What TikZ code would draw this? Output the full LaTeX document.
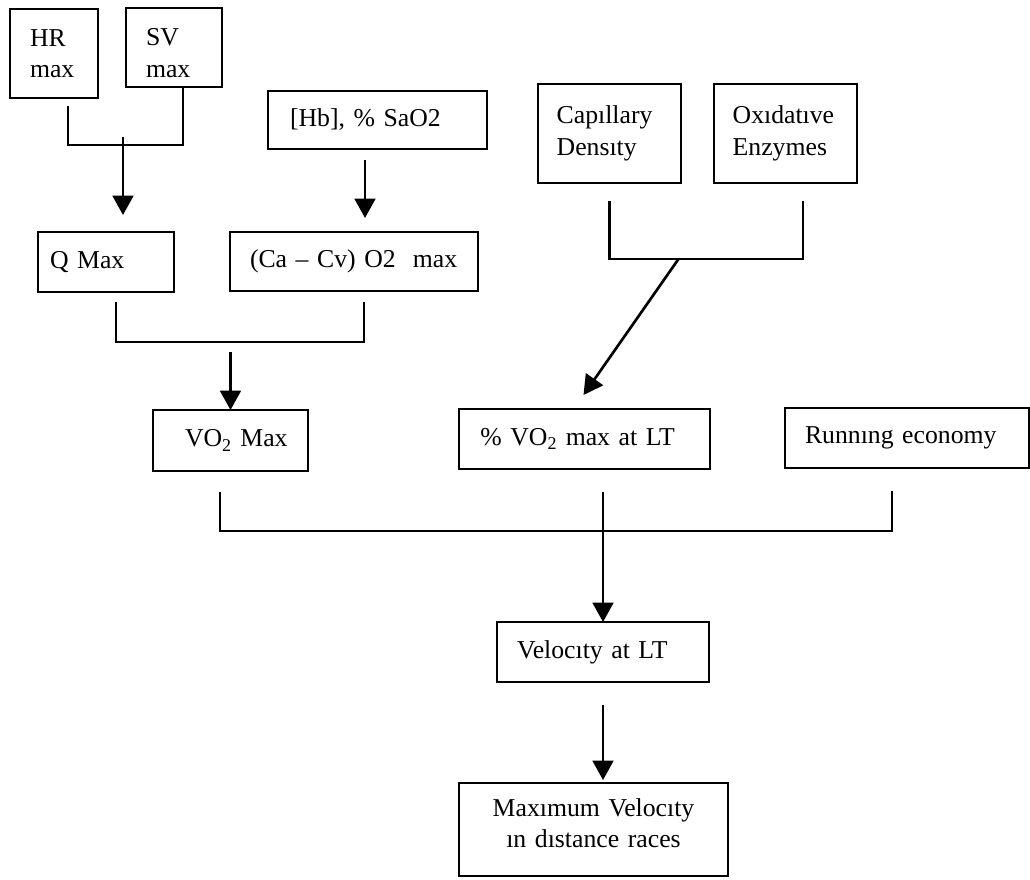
\documentclass[tikz,border=0pt]{standalone}
\usepackage{fontspec}
\setmainfont{Liberation Serif}
\usetikzlibrary{arrows.meta,calc}

\tikzset{
  blk/.style={draw, line width=2pt, anchor=north west, outer sep=0pt, align=left,
    inner ysep=0pt, inner xsep=15pt, font=\fontsize{19.3}{23.5}\selectfont},
  lnk/.style={line width=2pt},
  arr/.style={line width=2pt, -{Triangle[width=15.5pt,length=14.5pt]}},
}

\begin{document}
\begin{tikzpicture}[x=0.75pt,y=0.75pt,yscale=-1,xscale=1]
\useasboundingbox (0,0) rectangle (1030,879);
% boxes
\node[blk, text width=36pt, minimum height=66.75pt] (hr) at (10,9) {HR\\max};
\node[blk, text width=42pt, text height=21pt, minimum height=59.25pt] (sv) at (126,8) {SV\\max};
\node[blk, inner xsep=16.5pt, text width=131.25pt, minimum height=43.5pt] (hb) at (268,91) {[Hb],~\%~SaO2};
\node[blk, inner xsep=14pt, text width=79.25pt, minimum height=74.25pt] (cap) at (538,84) {Capıllary\\Densıty};
\node[blk, inner xsep=14pt, text width=79.25pt, minimum height=74.25pt] (oxi) at (714,84) {Oxıdatıve\\Enzymes};
\node[blk, inner xsep=9pt, text width=84pt, minimum height=45pt] (q) at (38,232) {Q~Max};
\node[blk, text width=156pt, minimum height=44.25pt] (cacv) at (230,232) {(Ca~–~Cv)~O2~~max};
\node[blk, inner xsep=24pt, text width=68.25pt, minimum height=45.75pt] (vo2) at (153,410) {VO\textsubscript{2}~Max};
\node[blk, inner xsep=16pt, text width=156.25pt, minimum height=45pt] (pvo2) at (459,409) {\%~VO\textsubscript{2}~max~at~LT};
\node[blk, text width=153pt, minimum height=45pt] (run) at (785,408) {Runnıng~economy};
\node[blk, text width=129pt, minimum height=45pt] (vel) at (497,622) {Velocıty~at~LT};
\node[blk, align=center, text width=171.75pt, text depth=33pt, minimum height=69.75pt] (maxv) at (459,783) {Maxımum~Velocıty\\ın~dıstance~races};
% HR and SV into Q
\coordinate (hrsv) at ($(q.north)+(17,-87)$);
\draw[lnk] ($(hr.south)+(14,8)$) |- (hrsv) -| ($(sv.south)+(9,0)$);
\draw[arr] ($(hrsv)+(0,-8)$) -- ($(q.north)+(17,-17)$);
% Hb into CaCv
\draw[arr] ($(hb.south)+(-12.5,11)$) -- ($(cacv.north)+(11,-14)$);
% Q and CaCv into VO2
\coordinate (qc) at ($(vo2.north)+(0,-68)$);
\draw[lnk] ($(q.south)+(10,10)$) |- (qc) -| ($(cacv.south)+(10,11)$);
\draw[arr] ($(qc)+(0,10)$) -- (vo2.north);
% capillary and enzymes into %VO2
\coordinate (co) at ($(cap.south)+(69,76)$);
\draw[lnk] ($(cap.south)+(0,18)$) |- (co) -| ($(oxi.south)+(17.5,18)$);
\draw[arr] (co) -- ($(pvo2.north)+(-1,-14)$);
% all three into velocity
\coordinate (lt) at ($(vel.north)+(0,-91)$);
\draw[lnk] ($(vo2.south)+(-10.5,21)$) |- (lt) -| ($(run.south)+(-15,23)$);
\draw[arr] ($(pvo2.south)+(18.5,23)$) -- (vel.north);
\draw[arr] ($(vel.south)+(0,23)$) -- ($(maxv.north)+(9.5,-3)$);
\end{tikzpicture}
\end{document}
